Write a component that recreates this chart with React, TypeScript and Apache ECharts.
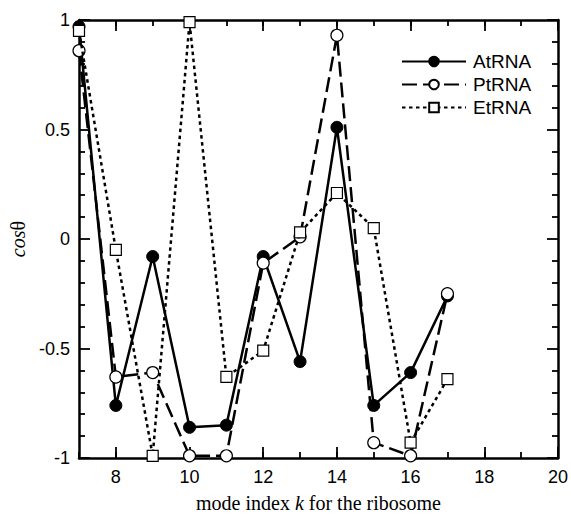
import React, { useEffect, useRef } from "react";
import * as echarts from "echarts";

const modeIndex = [7, 8, 9, 10, 11, 12, 13, 14, 15, 16, 17];
const atRNA = [0.97, -0.76, -0.08, -0.86, -0.85, -0.08, -0.56, 0.51, -0.76, -0.61, -0.26];
const ptRNA = [0.86, -0.63, -0.61, -0.99, -0.99, -0.11, 0.01, 0.93, -0.93, -0.99, -0.25];
const etRNA = [0.95, -0.05, -0.99, 0.99, -0.63, -0.51, 0.03, 0.21, 0.05, -0.93, -0.64];
const xMajorTicks = [8, 10, 12, 14, 16, 18, 20];

const pairs = (ys: number[]) => modeIndex.map((x, i) => [x, ys[i]]);

export default function App() {
  const ref = useRef<HTMLDivElement>(null);
  useEffect(() => {
    const chart = echarts.init(ref.current!, null, { renderer: "svg" });
    const sans = "Liberation Sans";
    const serif = "Liberation Serif";
    const lineStyle = { color: "#000", width: 2.5 };
    const tickStyle = { color: "#000", width: 1.8 };
    const baseX = {
      type: "value" as const,
      min: 7,
      max: 20,
      interval: 1,
      splitLine: { show: false },
    };
    chart.setOption({
      animation: false,
      backgroundColor: "#fff",
      grid: { left: 79, right: 11, top: 20, bottom: 63, containLabel: false },
      legend: {
        orient: "vertical",
        left: 396,
        top: 47,
        itemWidth: 64,
        itemHeight: 12,
        itemGap: 4,
        textStyle: { fontFamily: sans, fontSize: 19, lineHeight: 19, color: "#000", padding: [0, 0, 0, 2] },
        data: ["AtRNA", "PtRNA", "EtRNA"],
      },
      xAxis: [
        {
          ...baseX,
          position: "bottom",
          axisLine: { show: true, onZero: false, lineStyle },
          axisTick: { show: true, inside: true, length: 6, lineStyle: tickStyle },
          axisLabel: {
            show: true,
            margin: 10,
            color: "#000",
            fontFamily: sans,
            fontSize: 18,
            formatter: (v: number) => (v % 2 === 0 ? String(v) : ""),
          },
          name: "{a|mode index }{b|k}{a| for the ribosome}",
          nameLocation: "middle",
          nameGap: 35,
          nameTextStyle: {
            rich: {
              a: { fontFamily: serif, fontSize: 20, color: "#000" },
              b: { fontFamily: serif, fontSize: 20, fontStyle: "italic", color: "#000" },
            },
          },
        },
        {
          ...baseX,
          position: "bottom",
          axisLine: { show: false, onZero: false },
          axisTick: { show: true, inside: true, length: 11, customValues: xMajorTicks, lineStyle: tickStyle },
          axisLabel: { show: false },
        },
        {
          ...baseX,
          position: "top",
          axisLine: { show: true, onZero: false, lineStyle },
          axisTick: { show: true, inside: true, length: 6, lineStyle: tickStyle },
          axisLabel: { show: false },
        },
        {
          ...baseX,
          position: "top",
          axisLine: { show: false, onZero: false },
          axisTick: { show: true, inside: true, length: 11, customValues: xMajorTicks, lineStyle: tickStyle },
          axisLabel: { show: false },
        },
      ],
      yAxis: [
        {
          type: "value",
          min: -1,
          max: 1,
          interval: 0.5,
          position: "left",
          splitLine: { show: false },
          axisLine: { show: true, onZero: false, lineStyle },
          axisTick: { show: true, inside: true, length: 11, lineStyle: tickStyle },
          minorTick: { show: true, splitNumber: 5, length: 6, lineStyle: tickStyle },
          axisLabel: { margin: 9, color: "#000", fontFamily: sans, fontSize: 18 },
          name: "{c|cos}{t|θ}",
          nameLocation: "middle",
          nameGap: 50,
          nameTextStyle: {
            rich: {
              c: { fontFamily: serif, fontSize: 20, fontStyle: "italic", color: "#000" },
              t: { fontFamily: serif, fontSize: 20, color: "#000" },
            },
          },
        },
        {
          type: "value",
          min: -1,
          max: 1,
          interval: 0.5,
          position: "right",
          splitLine: { show: false },
          axisLine: { show: true, onZero: false, lineStyle },
          axisTick: { show: true, inside: true, length: 11, lineStyle: tickStyle },
          minorTick: { show: true, splitNumber: 5, length: 6, lineStyle: tickStyle },
          axisLabel: { show: false },
        },
      ],
      series: [
        {
          name: "AtRNA",
          type: "line",
          xAxisIndex: 0,
          yAxisIndex: 0,
          data: pairs(atRNA),
          symbol: "circle",
          symbolSize: 12,
          lineStyle: { color: "#000", width: 2.5, type: "solid" },
          itemStyle: { color: "#000", borderColor: "#000", borderWidth: 1 },
          z: 2,
        },
        {
          name: "PtRNA",
          type: "line",
          xAxisIndex: 0,
          yAxisIndex: 0,
          data: pairs(ptRNA),
          symbol: "circle",
          symbolSize: 12,
          lineStyle: { color: "#000", width: 2.5, type: [15, 6] },
          itemStyle: { color: "#fff", borderColor: "#000", borderWidth: 1.2 },
          z: 3,
        },
        {
          name: "EtRNA",
          type: "line",
          xAxisIndex: 0,
          yAxisIndex: 0,
          data: pairs(etRNA),
          symbol: "rect",
          symbolSize: 11,
          lineStyle: { color: "#000", width: 2.5, type: [3.5, 3.5] },
          itemStyle: { color: "#fff", borderColor: "#000", borderWidth: 1.2 },
          z: 4,
        },
      ],
    });
    return () => chart.dispose();
  }, []);
  return <div ref={ref} style={{ position: "fixed", left: 0, top: 0, width: 571, height: 521 }} />;
}
